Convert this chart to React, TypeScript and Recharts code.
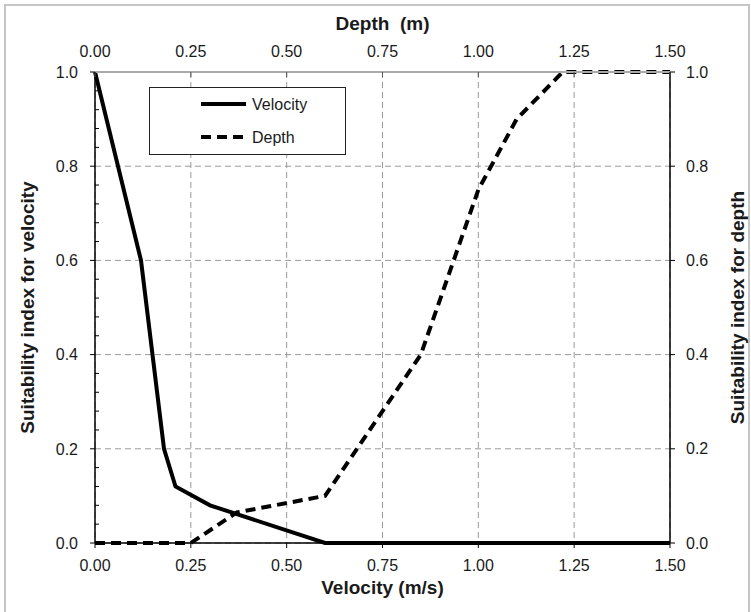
import React from 'react';
import { LineChart, Line, XAxis, YAxis, CartesianGrid, Legend, Label } from 'recharts';

// velocity suitability curve (bottom axis, left axis)
const velocityX = [0, 0.12, 0.18, 0.21, 0.3, 0.6, 1.5];
const velocitySI = [1, 0.6, 0.2, 0.12, 0.08, 0, 0];

// depth suitability curve (top axis, right axis)
const depthX = [0, 0.25, 0.37, 0.6, 0.85, 1.0, 1.1, 1.22, 1.5];
const depthSI = [0, 0, 0.065, 0.1, 0.4, 0.75, 0.9, 1.0, 1.0];

const xTicks = [0, 0.25, 0.5, 0.75, 1.0, 1.25, 1.5];
const siTicks = [0, 0.2, 0.4, 0.6, 0.8, 1.0];
const siMinorTicks = [
  0, 0.04, 0.08, 0.12, 0.16, 0.2, 0.24, 0.28, 0.32, 0.36, 0.4, 0.44, 0.48, 0.52, 0.56, 0.6,
  0.64, 0.68, 0.72, 0.76, 0.8, 0.84, 0.88, 0.92, 0.96, 1.0,
];

const velocityData = velocityX.map((x, i) => ({ x, y: velocitySI[i] }));
const depthData = depthX.map((x, i) => ({ x, y: depthSI[i] }));

const FONT = '"Liberation Sans", Arial, sans-serif';
const INK = '#1a1a1a';

const TopTick = (props: any) => {
  const { x, y, payload } = props;
  return (
    <g>
      <line x1={x} y1={y} x2={x} y2={y + 5} stroke="#555" strokeWidth={1} />
      <text x={x} y={y - 15} textAnchor="middle" fontSize={16} fontFamily={FONT} fill={INK}>
        {payload.value.toFixed(2)}
      </text>
    </g>
  );
};

const LeftTick = (props: any) => {
  const { x, y, payload } = props;
  const v = payload.value;
  const major = siTicks.some((t) => Math.abs(t - v) < 1e-6);
  if (!major) {
    return <line x1={x} y1={y} x2={x + 4} y2={y} stroke="#000" strokeWidth={1} />;
  }
  return (
    <g>
      <line x1={x - 5} y1={y} x2={x} y2={y} stroke="#000" strokeWidth={1} />
      <text x={x - 17} y={y} dy={5.7} textAnchor="end" fontSize={16} fontFamily={FONT} fill={INK}>
        {v.toFixed(1)}
      </text>
    </g>
  );
};

const LegendBox = () => (
  <svg width={197} height={68} style={{ display: 'block' }}>
    <rect x={0.5} y={0.5} width={196} height={67} fill="#fff" stroke="#222" strokeWidth={1} />
    <line x1={52} y1={17} x2={97} y2={17} stroke="#000" strokeWidth={4} />
    <text x={103} y={22.5} fontSize={16} fontFamily={FONT} fill={INK}>Velocity</text>
    <line x1={52} y1={50} x2={97} y2={50} stroke="#000" strokeWidth={4} strokeDasharray="10 6" />
    <text x={103} y={55.5} fontSize={16} fontFamily={FONT} fill={INK}>Depth</text>
  </svg>
);

const titleStyle = { fontSize: 19, fontWeight: 700, fontFamily: FONT, fill: INK } as const;

export default function App() {
  return (
    <div style={{ position: 'absolute', left: 0, top: 0, width: 751, height: 612, background: '#fff' }}>
      <div
        style={{
          position: 'absolute',
          left: 4,
          top: 4,
          width: 746,
          height: 610,
          border: '2px solid #c6c6c6',
          boxSizing: 'border-box',
        }}
      />
      <LineChart
        width={751}
        height={612}
        margin={{ top: 42, right: 21, bottom: 39, left: 35 }}
        style={{ position: 'absolute', left: 0, top: 0 }}
      >
        <CartesianGrid xAxisId="vel" yAxisId="right" stroke="#999" strokeDasharray="6 4" strokeWidth={1} />
        <XAxis
          xAxisId="vel"
          dataKey="x"
          type="number"
          domain={[0, 1.5]}
          ticks={xTicks}
          interval={0}
          height={30}
          tickSize={5}
          tickMargin={12}
          tickFormatter={(v: number) => v.toFixed(2)}
          tick={{ fontSize: 16, fontFamily: FONT, fill: INK }}
          axisLine={{ stroke: '#000', strokeWidth: 1.5 }}
          tickLine={{ stroke: '#000' }}
        >
          <Label
            content={(p: any) => (
              <text x={p.viewBox.x + p.viewBox.width / 2} y={p.viewBox.y + 51} textAnchor="middle" style={titleStyle}>
                Velocity (m/s)
              </text>
            )}
          />
        </XAxis>
        <XAxis
          xAxisId="depth"
          dataKey="x"
          type="number"
          orientation="top"
          domain={[0, 1.5]}
          ticks={xTicks}
          interval={0}
          height={30}
          tickSize={0}
          tickMargin={0}
          tickLine={false}
          tick={<TopTick />}
          axisLine={{ stroke: '#aaa', strokeWidth: 2 }}
        >
          <Label
            content={(p: any) => (
              <text
                x={p.viewBox.x + p.viewBox.width / 2}
                y={30}
                textAnchor="middle"
                style={titleStyle}
                xmlSpace="preserve"
              >
                {'Depth\u00a0 (m)'}
              </text>
            )}
          />
        </XAxis>
        <YAxis
          yAxisId="left"
          type="number"
          domain={[0, 1]}
          ticks={siMinorTicks}
          interval={0}
          width={60}
          tickSize={0}
          tickMargin={0}
          tickLine={false}
          tick={<LeftTick />}
          axisLine={{ stroke: '#000', strokeWidth: 1.5 }}
        >
          <Label
            content={(p: any) => {
              const cx = 27;
              const cy = p.viewBox.y + p.viewBox.height / 2;
              return (
                <text x={cx} y={cy} transform={`rotate(-90 ${cx} ${cy})`} textAnchor="middle" dy={6.5} style={titleStyle}>
                  Suitability index for velocity
                </text>
              );
            }}
          />
        </YAxis>
        <YAxis
          yAxisId="right"
          orientation="right"
          type="number"
          domain={[0, 1]}
          ticks={siTicks}
          interval={0}
          width={60}
          tickSize={5}
          tickMargin={11}
          tickFormatter={(v: number) => v.toFixed(1)}
          tick={{ fontSize: 16, fontFamily: FONT, fill: INK }}
          axisLine={{ stroke: '#000', strokeWidth: 1.5 }}
          tickLine={{ stroke: '#000' }}
        >
          <Label
            content={(p: any) => {
              const cx = 737;
              const cy = p.viewBox.y + p.viewBox.height / 2;
              return (
                <text x={cx} y={cy} transform={`rotate(-90 ${cx} ${cy})`} textAnchor="middle" dy={6.5} style={titleStyle}>
                  Suitability index for depth
                </text>
              );
            }}
          />
        </YAxis>
        <Legend
          layout="horizontal"
          verticalAlign="middle"
          align="center"
          content={() => <LegendBox />}
          wrapperStyle={{ position: 'absolute', left: 149, top: 87, width: 197, height: 68 }}
        />
        <Line
          data={velocityData}
          xAxisId="vel"
          yAxisId="left"
          dataKey="y"
          name="Velocity"
          type="linear"
          stroke="#000"
          strokeWidth={4}
          dot={false}
          activeDot={false}
          isAnimationActive={false}
        />
        <Line
          data={depthData}
          xAxisId="depth"
          yAxisId="right"
          dataKey="y"
          name="Depth"
          type="linear"
          stroke="#000"
          strokeWidth={4}
          strokeDasharray="10 6"
          dot={false}
          activeDot={false}
          isAnimationActive={false}
        />
      </LineChart>
    </div>
  );
}
